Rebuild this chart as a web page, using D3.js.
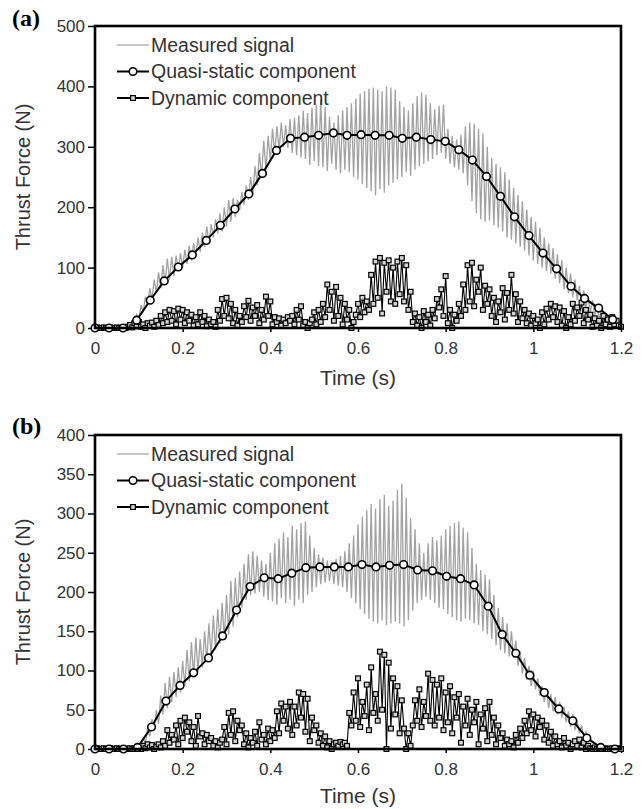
<!DOCTYPE html>
<html>
<head>
<meta charset="utf-8">
<script src="https://cdn.jsdelivr.net/npm/d3@7"></script>
<style>
body { margin: 0; background: #fff; }
svg text { font-family: "Liberation Sans", Arial, sans-serif; }
</style>
</head>
<body>
<div id="chart"></div>
<script>
// sampling step of the measured / dynamic series (s)
const timeStep = 0.005

const xTicks = [0, 0.2, 0.4, 0.6, 0.8, 1, 1.2]
const yTicksA = [0, 100, 200, 300, 400, 500]
const yTicksB = [0, 50, 100, 150, 200, 250, 300, 350, 400]
const legendLabels = ["Measured signal", "Quasi-static component", "Dynamic component"]

// ---- panel (a) ----
const measuredA = [
    0, 0, 1, 0, 0, 1, 0, 0, 1, 0,
    0, 1, 0, 0, 1, 2, 4, 12, 6, 22,
    14, 38, 26, 52, 38, 66, 48, 80, 58, 92,
    66, 104, 74, 115, 80, 118, 86, 120, 96, 124,
    100, 130, 106, 136, 112, 140, 120, 150, 126, 158,
    134, 168, 140, 172, 150, 180, 156, 190, 160, 200,
    168, 212, 176, 215, 184, 212, 195, 225, 204, 236,
    212, 250, 222, 268, 236, 290, 250, 310, 262, 318,
    276, 330, 290, 334, 294, 340, 300, 336, 298, 346,
    290, 348, 286, 352, 282, 360, 280, 356, 270, 364,
    276, 370, 268, 378, 266, 366, 260, 350, 272, 340,
    262, 352, 256, 360, 262, 366, 258, 372, 250, 380,
    246, 388, 238, 392, 232, 396, 226, 398, 220, 395,
    230, 392, 224, 400, 236, 398, 240, 394, 246, 376,
    250, 366, 258, 360, 252, 372, 262, 384, 268, 390,
    272, 386, 276, 372, 280, 362, 286, 368, 290, 370,
    280, 330, 272, 318, 266, 312, 262, 320, 256, 334,
    236, 340, 210, 338, 190, 330, 180, 322, 176, 300,
    178, 282, 170, 272, 166, 266, 160, 258, 150, 246,
    146, 232, 140, 220, 134, 210, 128, 196, 120, 184,
    112, 176, 106, 166, 100, 150, 94, 140, 90, 132,
    82, 122, 74, 112, 64, 100, 58, 90, 52, 80,
    46, 70, 40, 62, 34, 52, 26, 46, 20, 38,
    14, 30, 10, 22, 6, 14, 3, 8, 1, 3,
    1
]
const quasiTimesA = [0, 0.032, 0.064, 0.095, 0.126, 0.158, 0.190, 0.222, 0.254, 0.286, 0.319, 0.351, 0.382,
    0.414, 0.446, 0.478, 0.510, 0.544, 0.575, 0.607, 0.639, 0.671, 0.701, 0.733, 0.766, 0.799, 0.830,
    0.861, 0.893, 0.925, 0.957, 0.990, 1.022, 1.053, 1.086, 1.117, 1.149, 1.181]
const quasiA = [0, 0, 0, 13, 46, 78, 101, 121, 145, 170, 197, 222, 256,
    294, 314, 316, 319, 323, 319, 320, 319, 319, 314, 316, 312, 309, 295,
    278, 251, 218, 184, 153, 124, 98, 69, 49, 33, 14]
const dynamicA = [
    0, 1, 0, 0, 1, 0, 0, 1, 0, 0,
    1, 0, 0, 1, 0, 2, 5, 1, 8, 3,
    10, 2, 6, 0, 8, 4, 9, 2, 12, 5,
    20, 8, 26, 10, 30, 12, 28, 6, 32, 14,
    30, 8, 26, 12, 22, 4, 18, 6, 26, 10,
    20, 3, 14, 6, 10, 2, 30, 12, 48, 20,
    50, 16, 40, 8, 30, 4, 20, 10, 36, 18,
    45, 12, 34, 20, 38, 8, 30, 14, 52, 20,
    44, 6, 18, 10, 16, 4, 14, 8, 18, 12,
    20, 6, 30, 14, 36, 4, 10, 0, 8, 14,
    26, 6, 30, 10, 40, 18, 72, 30, 60, 12,
    68, 20, 50, 6, 40, 14, 30, 0, 10, 22,
    40, 18, 50, 26, 44, 30, 88, 40, 110, 50,
    116, 24, 108, 60, 112, 44, 100, 40, 110, 56,
    116, 44, 104, 30, 60, 10, 24, 4, 18, 0,
    28, 10, 22, 4, 30, 16, 48, 34, 64, 20,
    86, 8, 30, 0, 22, 12, 40, 20, 72, 30,
    104, 44, 108, 36, 80, 60, 100, 30, 70, 40,
    64, 20, 50, 10, 44, 26, 66, 14, 58, 30,
    88, 24, 56, 10, 44, 16, 30, 8, 24, 4,
    20, 8, 14, 0, 26, 6, 32, 14, 40, 18,
    36, 10, 34, 4, 28, 0, 18, 6, 40, 12,
    34, 20, 42, 8, 30, 14, 22, 2, 16, 4,
    12, 0, 20, 6, 14, 2, 18, 6, 12, 4,
    2
]

// ---- panel (b) ----
const measuredB = [
    0, 1, 0, 0, 1, 0, 1, 0, 0, 1,
    0, 0, 1, 0, 0, 1, 0, 1, 0, 2,
    6, 2, 14, 8, 26, 16, 38, 24, 50, 32,
    68, 44, 84, 52, 92, 60, 98, 66, 104, 72,
    112, 80, 126, 86, 136, 92, 142, 98, 140, 104,
    150, 112, 160, 118, 170, 126, 178, 134, 186, 140,
    196, 146, 214, 156, 218, 168, 226, 180, 236, 190,
    248, 196, 252, 198, 246, 200, 240, 194, 236, 190,
    250, 188, 262, 184, 268, 192, 276, 186, 270, 190,
    284, 182, 280, 190, 288, 186, 290, 196, 272, 200,
    256, 206, 248, 210, 244, 212, 240, 214, 238, 210,
    242, 208, 246, 206, 252, 200, 262, 192, 272, 186,
    286, 178, 296, 172, 304, 166, 312, 162, 306, 160,
    318, 164, 324, 158, 310, 160, 316, 162, 330, 160,
    338, 156, 320, 164, 294, 176, 280, 186, 262, 190,
    250, 194, 262, 190, 270, 186, 266, 180, 272, 178,
    280, 172, 284, 168, 288, 164, 290, 162, 282, 166,
    276, 164, 256, 160, 236, 158, 228, 150, 222, 146,
    216, 140, 196, 132, 180, 126, 168, 122, 160, 118,
    150, 116, 138, 106, 124, 96, 116, 88, 106, 80,
    100, 76, 90, 68, 80, 60, 76, 52, 70, 48,
    66, 44, 60, 40, 54, 34, 48, 28, 44, 24,
    36, 20, 30, 16, 22, 12, 14, 8, 8, 4,
    2, 1, 0, 1, 0, 0, 1, 0, 0, 1, 0
]
const quasiTimesB = [0, 0.032, 0.065, 0.097, 0.129, 0.162, 0.194, 0.225, 0.259, 0.291, 0.323, 0.354, 0.386,
    0.418, 0.449, 0.481, 0.513, 0.546, 0.578, 0.609, 0.641, 0.672, 0.704, 0.736, 0.770, 0.802, 0.834,
    0.865, 0.897, 0.929, 0.960, 0.992, 1.025, 1.058, 1.090, 1.122, 1.154, 1.186]
const quasiB = [0, 0, 0, 2, 28, 61, 81, 97, 116, 144, 177, 207, 218,
    217, 224, 231, 232, 232, 232, 235, 232, 234, 235, 228, 227, 220, 217,
    209, 182, 146, 122, 94, 72, 51, 36, 14, 2, 0]
const dynamicB = [
    0, 1, 0, 0, 1, 0, 0, 1, 0, 0,
    1, 0, 0, 1, 0, 0, 1, 0, 0, 1,
    2, 0, 4, 1, 6, 2, 5, 0, 3, 6,
    2, 10, 4, 24, 8, 18, 12, 30, 6, 36,
    14, 40, 22, 34, 10, 28, 4, 42, 16, 20,
    6, 18, 10, 14, 4, 10, 2, 8, 12, 28,
    6, 46, 18, 48, 10, 36, 24, 30, 6, 20,
    2, 14, 8, 22, 4, 34, 12, 18, 6, 26,
    10, 24, 14, 48, 20, 58, 36, 54, 26, 60,
    18, 54, 30, 72, 40, 70, 22, 64, 10, 40,
    24, 30, 8, 20, 4, 16, 2, 10, 0, 6,
    8, 4, 9, 6, 8, 4, 46, 30, 72, 36,
    90, 28, 60, 42, 82, 24, 104, 46, 70, 36,
    124, 50, 120, 0, 110, 26, 90, 44, 80, 20,
    62, 26, 0, 20, 4, 30, 62, 36, 76, 28,
    60, 42, 96, 36, 88, 30, 82, 40, 90, 24,
    72, 34, 80, 20, 66, 40, 70, 8, 54, 30,
    64, 18, 50, 34, 60, 6, 44, 26, 52, 10,
    60, 18, 40, 6, 30, 14, 20, 4, 12, 6,
    10, 2, 18, 8, 26, 14, 36, 20, 48, 24,
    44, 16, 40, 28, 36, 12, 30, 8, 22, 4,
    16, 6, 10, 2, 14, 4, 8, 0, 6, 10,
    4, 12, 2, 8, 0, 4, 1, 0, 2, 0,
    1, 0, 0, 1, 0, 0, 1, 0, 0, 1, 0
]

var width = 643,
    height = 809,
    plotLeft = 95,
    plotRight = 621,
    textColor = "#333",
    signalColor = "#a2a2a2";

var svg = d3.select('#chart')
    .append('svg')
    .attr('width', width)
    .attr('height', height);

function drawPanel(cfg) {
    var x = d3.scaleLinear().domain([0, 1.2]).range([plotLeft, plotRight]);
    var y = d3.scaleLinear().domain([0, cfg.yMax]).range([cfg.bottom, cfg.top]);
    var g = svg.append('g');

    // Y axis
    g.append('g')
        .attr('transform', `translate(${plotLeft},0)`)
        .call(d3.axisLeft(y).tickValues(cfg.yTicks).tickSize(7).tickSizeOuter(0).tickPadding(3))
        .attr('font-size', 17)
        .attr('font-family', null)
        .call(a => a.select('.domain').remove())
        .call(a => a.selectAll('line').attr('stroke', '#000').attr('stroke-width', 1.5))
        .call(a => a.selectAll('text').attr('fill', textColor));

    // X axis
    g.append('g')
        .attr('transform', `translate(0,${cfg.bottom})`)
        .call(d3.axisBottom(x).tickValues(xTicks).tickSize(4).tickSizeOuter(0)
            .tickPadding(cfg.xPad).tickFormat(d3.format('~g')))
        .attr('font-size', 17)
        .attr('font-family', null)
        .call(a => a.select('.domain').remove())
        .call(a => a.selectAll('line').attr('stroke', '#000').attr('stroke-width', 1.5))
        .call(a => a.selectAll('text').attr('fill', textColor));

    // measured signal
    g.append('path')
        .datum(cfg.measured)
        .attr('fill', 'none')
        .attr('stroke', signalColor)
        .attr('stroke-width', 1.3)
        .attr('d', d3.line().x((d, i) => x(i * timeStep)).y(d => y(d)));

    // quasi-static component
    var quasiPts = cfg.quasiTimes.map((t, i) => [t, cfg.quasi[i]]);
    g.append('path')
        .datum(quasiPts)
        .attr('fill', 'none')
        .attr('stroke', '#000')
        .attr('stroke-width', 2)
        .attr('d', d3.line().x(d => x(d[0])).y(d => y(d[1])));

    // dynamic component
    g.append('path')
        .datum(cfg.dynamic)
        .attr('fill', 'none')
        .attr('stroke', '#000')
        .attr('stroke-width', 1.1)
        .attr('d', d3.line().x((d, i) => x(i * timeStep)).y(d => y(d)));

    g.selectAll('.dyn-mark')
        .data(cfg.dynamic)
        .enter()
        .append('rect')
        .attr('class', 'dyn-mark')
        .attr('x', (d, i) => x(i * timeStep) - 2.4)
        .attr('y', d => y(d) - 2.4)
        .attr('width', 4.8)
        .attr('height', 4.8)
        .attr('fill', '#d4d4d4')
        .attr('stroke', '#000')
        .attr('stroke-width', 1.2);

    g.selectAll('.quasi-mark')
        .data(quasiPts)
        .enter()
        .append('circle')
        .attr('class', 'quasi-mark')
        .attr('cx', d => x(d[0]))
        .attr('cy', d => y(d[1]))
        .attr('r', 3.8)
        .attr('fill', '#fff')
        .attr('stroke', '#000')
        .attr('stroke-width', 1.6);

    // plot frame
    g.append('rect')
        .attr('x', plotLeft)
        .attr('y', cfg.top)
        .attr('width', plotRight - plotLeft)
        .attr('height', cfg.bottom - cfg.top)
        .attr('fill', 'none')
        .attr('stroke', '#000')
        .attr('stroke-width', 2.6);

    // legend
    var legend = g.append('g');
    legendLabels.forEach((label, i) => {
        var ly = cfg.top + 19 + i * 26.5;
        legend.append('line')
            .attr('x1', 117).attr('x2', 149)
            .attr('y1', ly).attr('y2', ly)
            .attr('stroke', i === 0 ? signalColor : '#000')
            .attr('stroke-width', i === 0 ? 1.2 : 2);
        if (i === 1) {
            legend.append('circle')
                .attr('cx', 133).attr('cy', ly).attr('r', 3.8)
                .attr('fill', '#fff').attr('stroke', '#000').attr('stroke-width', 1.6);
        }
        if (i === 2) {
            legend.append('rect')
                .attr('x', 133 - 2.4).attr('y', ly - 2.4)
                .attr('width', 4.8).attr('height', 4.8)
                .attr('fill', '#d4d4d4').attr('stroke', '#000').attr('stroke-width', 1.2);
        }
        legend.append('text')
            .attr('x', 151)
            .attr('y', ly)
            .attr('dy', '0.35em')
            .attr('font-size', 19.5)
            .attr('fill', textColor)
            .text(label);
    });

    // axis titles
    g.append('text')
        .attr('transform', `translate(30,${(cfg.top + cfg.bottom) / 2}) rotate(-90)`)
        .attr('text-anchor', 'middle')
        .attr('font-size', 20)
        .attr('fill', textColor)
        .text('Thrust Force (N)');

    g.append('text')
        .attr('x', (plotLeft + plotRight) / 2)
        .attr('y', cfg.bottom + cfg.titleOffset)
        .attr('text-anchor', 'middle')
        .attr('font-size', 21)
        .attr('fill', textColor)
        .text('Time (s)');

    // panel letter
    g.append('text')
        .attr('x', 12)
        .attr('y', cfg.letterY)
        .attr('font-size', 24)
        .attr('font-weight', 'bold')
        .attr('fill', '#000')
        .style('font-family', '"Liberation Serif", "Times New Roman", serif')
        .text(cfg.letter);
}

drawPanel({
    letter: '(a)', letterY: 26,
    top: 26, bottom: 328, yMax: 500, yTicks: yTicksA,
    xPad: 10, titleOffset: 57,
    measured: measuredA, quasiTimes: quasiTimesA, quasi: quasiA, dynamic: dynamicA
});

drawPanel({
    letter: '(b)', letterY: 434,
    top: 435, bottom: 749, yMax: 400, yTicks: yTicksB,
    xPad: 10, titleOffset: 54,
    measured: measuredB, quasiTimes: quasiTimesB, quasi: quasiB, dynamic: dynamicB
});
</script>
</body>
</html>
